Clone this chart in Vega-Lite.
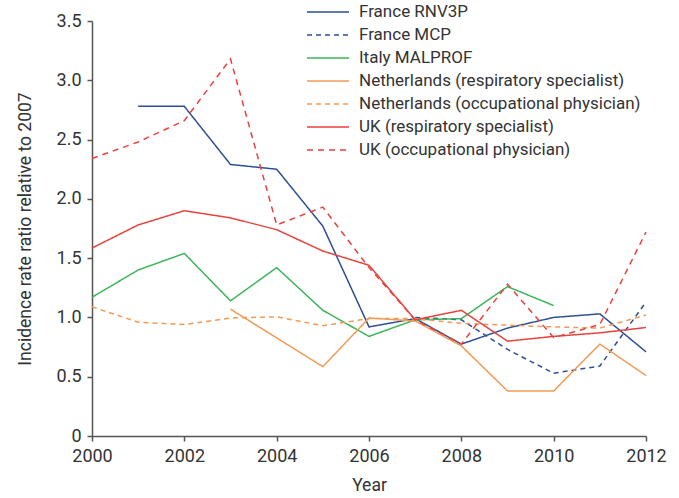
{
  "$schema": "https://vega.github.io/schema/vega-lite/v6.json",
  "width": 554,
  "height": 415,
  "autosize": {"type": "none"},
  "padding": {"left": 92, "top": 21, "right": 33, "bottom": 62},
  "background": "white",
  "config": {
    "view": {"stroke": null},
    "font": "Roboto",
    "axis": {"grid": false, "domainColor": "#555", "domainWidth": 1.5, "tickColor": "#555", "tickWidth": 1.5, "tickSize": 5, "labelFontSize": 18, "labelColor": "#333", "titleFontSize": 17.5, "titleColor": "#333", "titleFontWeight": "normal", "labelFont": "Roboto", "titleFont": "Roboto", "labelFlush": false}
  },
  "data": {"values": [
    {"series": "France RNV3P", "year": 2001, "value": 2.78},
    {"series": "France RNV3P", "year": 2002, "value": 2.78},
    {"series": "France RNV3P", "year": 2003, "value": 2.29},
    {"series": "France RNV3P", "year": 2004, "value": 2.25},
    {"series": "France RNV3P", "year": 2005, "value": 1.77},
    {"series": "France RNV3P", "year": 2006, "value": 0.92},
    {"series": "France RNV3P", "year": 2007, "value": 0.99},
    {"series": "France RNV3P", "year": 2008, "value": 0.775},
    {"series": "France RNV3P", "year": 2009, "value": 0.91},
    {"series": "France RNV3P", "year": 2010, "value": 1.0},
    {"series": "France RNV3P", "year": 2011, "value": 1.03},
    {"series": "France RNV3P", "year": 2012, "value": 0.71},
    {"series": "France MCP", "year": 2007, "value": 1.0},
    {"series": "France MCP", "year": 2008, "value": 0.98},
    {"series": "France MCP", "year": 2009, "value": 0.73},
    {"series": "France MCP", "year": 2010, "value": 0.53},
    {"series": "France MCP", "year": 2011, "value": 0.59},
    {"series": "France MCP", "year": 2012, "value": 1.13},
    {"series": "Italy MALPROF", "year": 2000, "value": 1.17},
    {"series": "Italy MALPROF", "year": 2001, "value": 1.4},
    {"series": "Italy MALPROF", "year": 2002, "value": 1.54},
    {"series": "Italy MALPROF", "year": 2003, "value": 1.14},
    {"series": "Italy MALPROF", "year": 2004, "value": 1.42},
    {"series": "Italy MALPROF", "year": 2005, "value": 1.06},
    {"series": "Italy MALPROF", "year": 2006, "value": 0.84},
    {"series": "Italy MALPROF", "year": 2007, "value": 0.98},
    {"series": "Italy MALPROF", "year": 2008, "value": 0.99},
    {"series": "Italy MALPROF", "year": 2009, "value": 1.26},
    {"series": "Italy MALPROF", "year": 2010, "value": 1.1},
    {"series": "Netherlands (respiratory specialist)", "year": 2003, "value": 1.07},
    {"series": "Netherlands (respiratory specialist)", "year": 2005, "value": 0.585},
    {"series": "Netherlands (respiratory specialist)", "year": 2006, "value": 0.995},
    {"series": "Netherlands (respiratory specialist)", "year": 2007, "value": 0.97},
    {"series": "Netherlands (respiratory specialist)", "year": 2008, "value": 0.76},
    {"series": "Netherlands (respiratory specialist)", "year": 2009, "value": 0.38},
    {"series": "Netherlands (respiratory specialist)", "year": 2010, "value": 0.38},
    {"series": "Netherlands (respiratory specialist)", "year": 2011, "value": 0.775},
    {"series": "Netherlands (respiratory specialist)", "year": 2012, "value": 0.51},
    {"series": "Netherlands (occupational physician)", "year": 2000, "value": 1.09},
    {"series": "Netherlands (occupational physician)", "year": 2001, "value": 0.96},
    {"series": "Netherlands (occupational physician)", "year": 2002, "value": 0.94},
    {"series": "Netherlands (occupational physician)", "year": 2003, "value": 0.995},
    {"series": "Netherlands (occupational physician)", "year": 2004, "value": 1.005},
    {"series": "Netherlands (occupational physician)", "year": 2005, "value": 0.93},
    {"series": "Netherlands (occupational physician)", "year": 2006, "value": 0.99},
    {"series": "Netherlands (occupational physician)", "year": 2007, "value": 0.99},
    {"series": "Netherlands (occupational physician)", "year": 2008, "value": 0.95},
    {"series": "Netherlands (occupational physician)", "year": 2009, "value": 0.935},
    {"series": "Netherlands (occupational physician)", "year": 2010, "value": 0.92},
    {"series": "Netherlands (occupational physician)", "year": 2011, "value": 0.91},
    {"series": "Netherlands (occupational physician)", "year": 2012, "value": 1.02},
    {"series": "UK (respiratory specialist)", "year": 2000, "value": 1.585},
    {"series": "UK (respiratory specialist)", "year": 2001, "value": 1.78},
    {"series": "UK (respiratory specialist)", "year": 2002, "value": 1.9},
    {"series": "UK (respiratory specialist)", "year": 2003, "value": 1.84},
    {"series": "UK (respiratory specialist)", "year": 2004, "value": 1.74},
    {"series": "UK (respiratory specialist)", "year": 2005, "value": 1.56},
    {"series": "UK (respiratory specialist)", "year": 2006, "value": 1.44},
    {"series": "UK (respiratory specialist)", "year": 2007, "value": 0.98},
    {"series": "UK (respiratory specialist)", "year": 2008, "value": 1.06},
    {"series": "UK (respiratory specialist)", "year": 2009, "value": 0.8},
    {"series": "UK (respiratory specialist)", "year": 2010, "value": 0.84},
    {"series": "UK (respiratory specialist)", "year": 2011, "value": 0.87},
    {"series": "UK (respiratory specialist)", "year": 2012, "value": 0.915},
    {"series": "UK (occupational physician)", "year": 2000, "value": 2.34},
    {"series": "UK (occupational physician)", "year": 2001, "value": 2.48},
    {"series": "UK (occupational physician)", "year": 2002, "value": 2.66},
    {"series": "UK (occupational physician)", "year": 2003, "value": 3.18},
    {"series": "UK (occupational physician)", "year": 2004, "value": 1.78},
    {"series": "UK (occupational physician)", "year": 2005, "value": 1.93},
    {"series": "UK (occupational physician)", "year": 2006, "value": 1.42},
    {"series": "UK (occupational physician)", "year": 2007, "value": 0.98},
    {"series": "UK (occupational physician)", "year": 2008, "value": 0.775},
    {"series": "UK (occupational physician)", "year": 2009, "value": 1.28},
    {"series": "UK (occupational physician)", "year": 2010, "value": 0.83},
    {"series": "UK (occupational physician)", "year": 2011, "value": 0.94},
    {"series": "UK (occupational physician)", "year": 2012, "value": 1.72}
  ]},
  "mark": {"type": "line", "strokeWidth": 1.5},
  "encoding": {
    "x": {"field": "year", "type": "quantitative", "scale": {"domain": [2000, 2012], "nice": false, "zero": false},
      "axis": {"values": [2000, 2002, 2004, 2006, 2008, 2010, 2012], "format": "d", "title": "Year", "titlePadding": 11, "labelPadding": 6}},
    "y": {"field": "value", "type": "quantitative", "scale": {"domain": [0, 3.5], "nice": false},
      "axis": {"values": [0, 0.5, 1, 1.5, 2, 2.5, 3, 3.5], "labelExpr": "datum.value == 0 ? '0' : format(datum.value, '.1f')", "title": "Incidence rate ratio relative to 2007", "titlePadding": 22, "labelPadding": 6}},
    "color": {"field": "series", "type": "nominal", "title": null,
      "scale": {"domain": ["France RNV3P", "France MCP", "Italy MALPROF", "Netherlands (respiratory specialist)", "Netherlands (occupational physician)", "UK (respiratory specialist)", "UK (occupational physician)"],
        "range": ["#2d4f93", "#2d4f93", "#3cb55a", "#f29a55", "#f29a55", "#e8423d", "#e8423d"]},
      "legend": {"orient": "none", "legendX": 214, "legendY": -17, "symbolType": "stroke", "symbolSize": 1764, "symbolStrokeWidth": 1.5, "labelFontSize": 17, "labelColor": "#333", "labelFont": "Roboto", "rowPadding": 6, "clipHeight": 16, "labelOffset": 9, "labelLimit": 400}},
    "strokeDash": {"field": "series", "type": "nominal", "title": null,
      "scale": {"domain": ["France RNV3P", "France MCP", "Italy MALPROF", "Netherlands (respiratory specialist)", "Netherlands (occupational physician)", "UK (respiratory specialist)", "UK (occupational physician)"],
        "range": [[1, 0], [5, 4], [1, 0], [1, 0], [5, 4], [1, 0], [6, 5]]}}
  }
}
